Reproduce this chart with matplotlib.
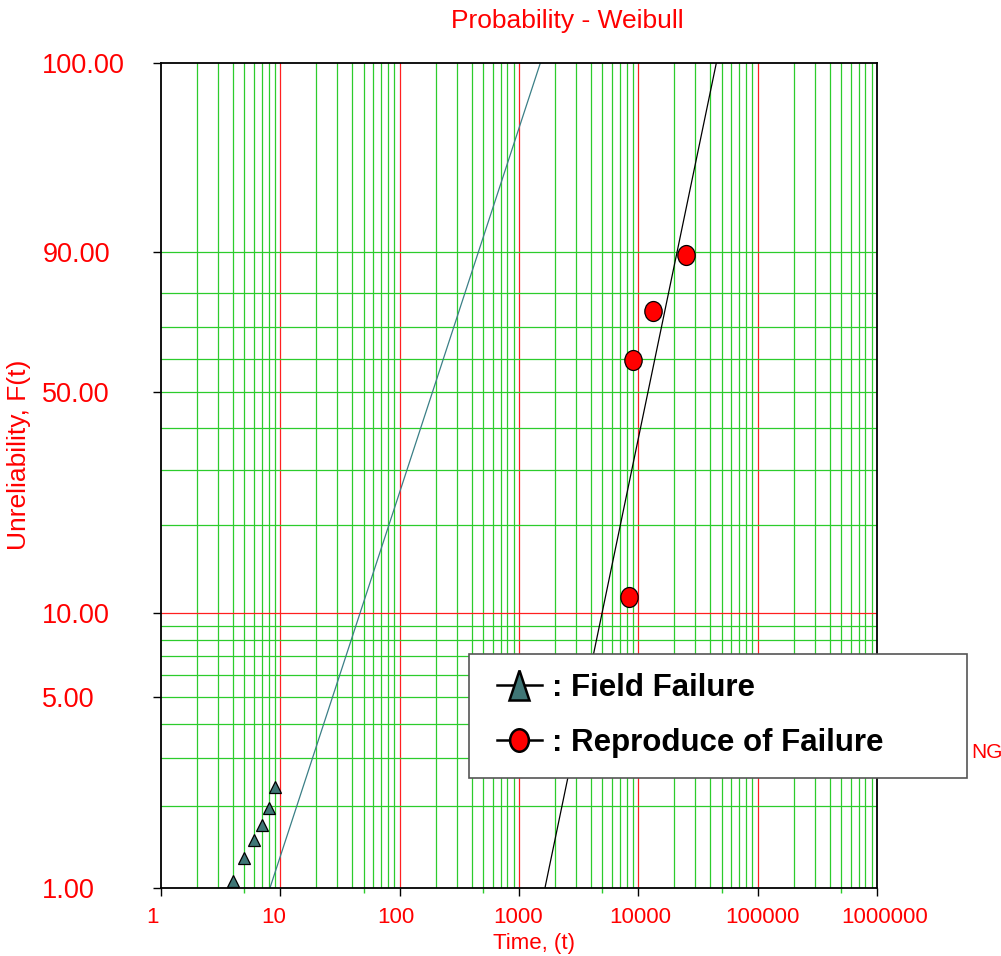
import numpy as np
import matplotlib
matplotlib.use("Agg")
import matplotlib.pyplot as plt
from matplotlib.lines import Line2D
from matplotlib.markers import MarkerStyle
from matplotlib.transforms import Affine2D, ScaledTranslation
from matplotlib.legend_handler import HandlerLine2D

plt.rcParams['font.family'] = ['Liberation Sans', 'DejaVu Sans']

# data
field_t = [4, 5, 6, 7, 8, 9]
field_F = [1.06, 1.29, 1.50, 1.71, 1.97, 2.36]
repro_t = [8370, 9040, 13240, 25170]
repro_F = [11.36, 59.7, 75.1, 89.4]

# weibull fits (beta, eta)
field_fit = (1.35, 247.0)
repro_fit = (2.13, 14300.0)

ytick_vals = [1, 5, 10, 50, 90, 99.999]
ytick_labels = ['1.00', '5.00', '10.00', '50.00', '90.00', '100.00']
xtick_vals = [1, 10, 100, 1000, 10000, 100000, 1000000]


def fwd(F):
    F = np.clip(np.asarray(F, dtype=float), 1e-9, 99.99999)
    return np.log(-np.log(1 - F / 100.0))


def inv(w):
    return 100.0 * (1 - np.exp(-np.exp(w)))


def weibull_cdf(t, beta, eta):
    return 100.0 * (1 - np.exp(-(t / eta) ** beta))


fig = plt.figure(figsize=(10.01, 9.56), dpi=100)
ax = fig.add_axes([161 / 1001, 1 - 888 / 956, (877 - 161) / 1001, (888 - 63) / 956])
ax.set_xscale('log')
ax.set_yscale('function', functions=(fwd, inv))
ax.set_xlim(1, 1e6)
ax.set_ylim(1, 99.999)

green = '#2ccc2c'
red = '#ff2020'

# vertical grid
for k in range(0, 6):
    for m in range(2, 10):
        ax.axvline(m * 10 ** k, color=green, lw=0.9, zorder=1)
    if k > 0:
        ax.axvline(10 ** k, color=red, lw=0.9, zorder=1)

# horizontal grid
hgrid = list(range(2, 10)) + [20, 30, 40, 50, 60, 70, 80, 90]
for v in hgrid:
    ax.axhline(v, color=green, lw=0.9, zorder=1)
ax.axhline(10, color=red, lw=0.9, zorder=1)

# fit lines
t = np.logspace(0, 6, 3000)
for (beta, eta), col in [(field_fit, '#3a7f86'), (repro_fit, 'black')]:
    F = weibull_cdf(t, beta, eta)
    keep = F < 99.9999
    ax.plot(t[keep], F[keep], color=col, lw=0.9, zorder=3)

tri = MarkerStyle('^', transform=Affine2D().scale(1.0, 0.92))
ell = MarkerStyle('o', transform=Affine2D().scale(1.0, 1.15))
ax.plot(field_t, field_F, ls='none', marker=tri, ms=9, mfc='#3f7676',
        mec='black', mew=0.9, zorder=4)
ax.plot(repro_t, repro_F, ls='none', marker=ell, ms=12.5, mfc='#ff0000',
        mec='black', mew=0.9, zorder=4)

# ticks
ax.set_xticks(xtick_vals)
ax.set_xticklabels([str(v) for v in xtick_vals])
ax.set_xticks([5 * 10 ** k for k in range(6)], minor=True)
ax.set_xticklabels([], minor=True)
ax.set_yticks(ytick_vals)
ax.set_yticklabels(ytick_labels)
ax.set_yticks([], minor=True)

ax.tick_params(axis='x', which='major', length=6, width=1, labelsize=16,
               labelcolor='red', pad=8)
ax.tick_params(axis='x', which='minor', length=3.5, width=1, color=green)
ax.tick_params(axis='y', which='major', length=6, width=1, labelsize=19.5,
               labelcolor='red', pad=79.5)
for lab in ax.get_yticklabels():
    lab.set_horizontalalignment('left')

# the x labels drift slightly right along the axis in the original
for i, lab in enumerate(ax.get_xticklabels()):
    dx = (-9 + 17 * i / 6) / 100.0
    lab.set_transform(lab.get_transform() + ScaledTranslation(dx, 0, fig.dpi_scale_trans))

xcols = ['black', red, red, red, red, red, 'black']
for tk, c in zip(ax.xaxis.get_major_ticks(), xcols):
    tk.tick1line.set_color(c)
ycols = ['black', green, red, green, green, 'black']
for tk, c in zip(ax.yaxis.get_major_ticks(), ycols):
    tk.tick1line.set_color(c)

for s in ax.spines.values():
    s.set_color('black')
    s.set_linewidth(1.3)
    s.set_zorder(5)

fig.text(567 / 1001, 1 - 21 / 956, 'Probability - Weibull', color='red',
         fontsize=19, ha='center', va='center')
fig.text(19 / 1001, 1 - 455 / 956, 'Unreliability, F(t)', color='red',
         fontsize=19, rotation=90, ha='center', va='center')
fig.text(534 / 1001, 1 - 943 / 956, 'Time, (t)', color='red',
         fontsize=16, ha='center', va='center')
fig.text(971 / 1001, 1 - 752 / 956, 'NG', color='red', fontsize=15,
         ha='left', va='center', zorder=2)

leg_tri = MarkerStyle('^', transform=Affine2D().scale(0.75, 1.1))
leg_ell = MarkerStyle('o', transform=Affine2D().scale(1.0, 1.2))
handles = [
    Line2D([], [], color='black', lw=1.8, marker=leg_tri, ms=19, mfc='#3f7676',
           mec='black', mew=1.8),
    Line2D([], [], color='black', lw=1.8, marker=leg_ell, ms=13.5, mfc='#ff0000',
           mec='black', mew=1.8),
]
leg = fig.legend(handles, [': Field Failure', ': Reproduce of Failure'],
                 loc='upper left',
                 bbox_to_anchor=(469 / 1001, 1 - 654 / 956, (967 - 469) / 1001, 0),
                 mode='expand', prop={'weight': 'bold', 'size': 22.5},
                 frameon=True, fancybox=False, edgecolor='#555555',
                 framealpha=1, handlelength=1.72, handletextpad=0.32,
                 borderpad=0.62, labelspacing=0.8, borderaxespad=0,
                 handler_map={Line2D: HandlerLine2D(xpad=0.27)})
leg.get_frame().set_linewidth(1.2)
leg.set_zorder(6)

fig.savefig('out.png', dpi=100)
